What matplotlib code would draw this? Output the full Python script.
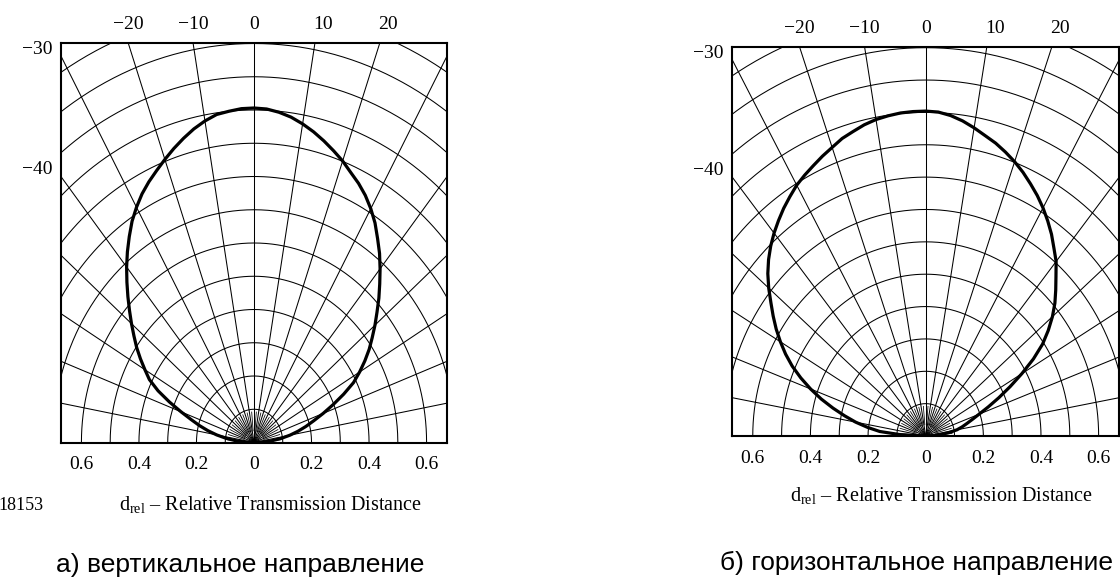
import numpy as np
import matplotlib
matplotlib.use("Agg")
import matplotlib.pyplot as plt

plt.rcParams['font.family'] = ['Liberation Serif', 'DejaVu Serif']
plt.rcParams['mathtext.fontset'] = 'custom'
plt.rcParams['mathtext.rm'] = 'Liberation Serif'

# angular displacement, degrees (curves read every 2.5 deg)
angles = [-90, -87.5, -85, -82.5, -80, -77.5, -75, -72.5, -70, -67.5, -65,
          -62.5, -60, -57.5, -55, -52.5, -50, -47.5, -45, -42.5, -40, -37.5,
          -35, -32.5, -30, -27.5, -25, -22.5, -20, -17.5, -15, -12.5, -10,
          -7.5, -5, -2.5, 0, 2.5, 5, 7.5, 10, 12.5, 15, 17.5, 20, 22.5, 25,
          27.5, 30, 32.5, 35, 37.5, 40, 42.5, 45, 47.5, 50, 52.5, 55, 57.5,
          60, 62.5, 65, 67.5, 70, 72.5, 75, 77.5, 80, 82.5, 85, 87.5, 90]

# relative transmission distance, vertical direction
d_vertical = [0.0, 0.033, 0.066, 0.099, 0.132, 0.164, 0.196, 0.229, 0.270,
              0.318, 0.368, 0.41, 0.438, 0.468, 0.498, 0.526, 0.556, 0.587,
              0.620, 0.654, 0.689, 0.723, 0.756, 0.789, 0.817, 0.843, 0.865,
              0.885, 0.906, 0.927, 0.947, 0.966, 0.982, 0.995, 1.0, 1.005,
              1.006,
              1.004, 0.997, 0.987, 0.973, 0.957, 0.939, 0.920, 0.901, 0.879,
              0.860, 0.838, 0.812, 0.783, 0.749, 0.717, 0.682, 0.647, 0.614,
              0.580, 0.549, 0.518, 0.489, 0.457, 0.424, 0.390, 0.344, 0.298,
              0.256, 0.218, 0.187, 0.157, 0.127, 0.096, 0.064, 0.032, 0.0]

# relative transmission distance, horizontal direction
d_horizontal = [0.0, 0.085, 0.16, 0.203, 0.247, 0.288, 0.333, 0.38, 0.425,
                0.469, 0.511, 0.548, 0.582, 0.615, 0.646, 0.677, 0.711, 0.743,
                0.771, 0.796, 0.8185, 0.839, 0.859, 0.877, 0.895, 0.909, 0.922,
                0.936, 0.949, 0.964, 0.974, 0.985, 0.993, 0.998, 1.002, 1.0035,
                1.004,
                1.002, 0.994, 0.982, 0.967, 0.951, 0.937, 0.920, 0.902, 0.882,
                0.860, 0.838, 0.814, 0.788, 0.761, 0.731, 0.704, 0.669, 0.638,
                0.608, 0.574, 0.536, 0.495, 0.443, 0.385, 0.33, 0.28, 0.235,
                0.197, 0.169, 0.147, 0.129, 0.110, 0.082, 0.054, 0.027, 0.0]

dist_ticks = [-0.6, -0.4, -0.2, 0, 0.2, 0.4, 0.6]
top_angles = [-20, -10, 0, 10, 20]
side_angles = [-30, -40]
xlabel = 'd$_{\\mathrm{rel}}$ \u2013 Relative Transmission Distance'
captions = ["а) вертикальное направление", "б) горизонтальное направление"]

W, H = 1120, 580
XMAX, YMAX = 0.671, 1.203


def fmt(v):
    s = '%g' % abs(v)
    return ('\u2212' + s) if v < 0 else s


def draw_panel(ax, d):
    # polar grid: circles every 0.1, rays every 10 deg
    t = np.radians(np.linspace(-90, 90, 361))
    for r in np.arange(0.1, 1.45, 0.1):
        ax.plot(r * np.sin(t), r * np.cos(t), color='black', lw=0.75, zorder=1)
    for a in range(-80, 81, 10):
        th = np.radians(a)
        ax.plot([0, 2 * np.sin(th)], [0, 2 * np.cos(th)], color='black',
                lw=0.75, zorder=1)
    # short rays near the origin
    for a in range(-85, 86, 10):
        th = np.radians(a)
        ax.plot([0.035 * np.sin(th), 0.092 * np.sin(th)],
                [0.035 * np.cos(th), 0.092 * np.cos(th)],
                color='black', lw=0.55, zorder=1)

    th = np.radians(angles)
    d = np.asarray(d)
    ax.plot(d * np.sin(th), d * np.cos(th), color='black', lw=2.3,
            zorder=3, solid_joinstyle='round', solid_capstyle='round')

    ax.set_xlim(-XMAX, XMAX)
    ax.set_ylim(0, YMAX)
    ax.set_xticks(dist_ticks)
    ax.set_xticklabels([fmt(abs(v)) for v in dist_ticks])
    ax.tick_params(axis='x', length=0, pad=10, labelsize=14)
    ax.set_yticks([])
    for sp in ax.spines.values():
        sp.set_linewidth(1.5)

    for a in top_angles:
        x = YMAX * np.tan(np.radians(a)) + (0.028 if a > 0 else 0)
        ax.annotate(fmt(a), xy=(x, 1), xycoords=('data', 'axes fraction'),
                    xytext=(0, 13), textcoords='offset points',
                    ha='center', va='center', fontsize=14)
    for a in side_angles:
        y = XMAX / np.tan(np.radians(abs(a))) + 0.02
        ax.annotate(fmt(a), xy=(0, y), xycoords=('axes fraction', 'data'),
                    xytext=(-6, 0), textcoords='offset points',
                    ha='right', va='center', fontsize=14)

    ax.text(0.542, -0.156, xlabel, transform=ax.transAxes,
            ha='center', va='center', fontsize=14.5)


fig = plt.figure(figsize=(W / 100, H / 100), dpi=100)

ax1 = fig.add_axes([61 / W, (H - 442.5) / H, 386 / W, 400 / H])
draw_panel(ax1, d_vertical)

ax2 = fig.add_axes([732.3 / W, (H - 436) / H, 386.8 / W, 389.3 / H])
draw_panel(ax2, d_horizontal)

fig.text(44 / W, 1 - 505 / H, '18153', ha='right', va='center', fontsize=13)

fig.text(240 / W, 1 - 565 / H, captions[0], ha='center', va='center',
         fontsize=19, family=['Liberation Sans', 'DejaVu Sans'])
fig.text(916.5 / W, 1 - 563 / H, captions[1], ha='center', va='center',
         fontsize=19, family=['Liberation Sans', 'DejaVu Sans'])

fig.savefig('out.png', dpi=100)
